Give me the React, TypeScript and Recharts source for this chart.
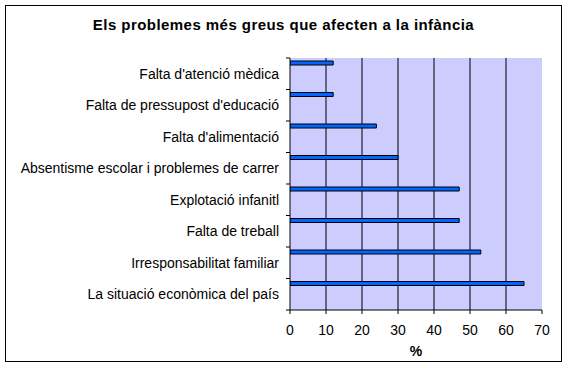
import React from 'react';
import { BarChart, Bar, XAxis, YAxis, CartesianGrid } from 'recharts';

const categories = [
  "Falta d'atenció mèdica",
  "Falta de pressupost d'educació",
  "Falta d'alimentació",
  'Absentisme escolar i problemes de carrer',
  'Explotació infanitl',
  'Falta de treball',
  'Irresponsabilitat familiar',
  'La situació econòmica del país',
];
const values = [12, 12, 24, 30, 47, 47, 53, 65];
const xTicks = [0, 10, 20, 30, 40, 50, 60, 70];
const gridValues = [10, 20, 30, 40, 50, 60];
const title = 'Els problemes més greus que afecten a la infància';
const xLabel = '%';

const data = categories.map((name, i) => ({ name, pct: values[i] }));

const FONT = '"Liberation Sans", Arial, sans-serif';

const CatTick = (props: any) => {
  const { x, y, payload, index, visibleTicksCount } = props;
  const half = payload && payload.offset ? payload.offset : 0;
  const ax = x + 11;
  return (
    <g>
      <text x={x} y={y} dy="0.35em" textAnchor="end" fontFamily={FONT} fontSize={14} fill="#000">
        {payload.value}
      </text>
      <line x1={ax - 4} x2={ax} y1={y - half} y2={y - half} stroke="#000" />
      {index === visibleTicksCount - 1 && (
        <line x1={ax - 4} x2={ax} y1={y + half} y2={y + half} stroke="#000" />
      )}
    </g>
  );
};

export default function App() {
  return (
    <div style={{ position: 'absolute', left: 0, top: 0, width: 567, height: 367, background: '#fff' }}>
      <div
        style={{
          position: 'absolute',
          left: 5,
          top: 5,
          width: 555,
          height: 355,
          border: '1px solid #000',
        }}
      />
      <div
        style={{
          position: 'absolute',
          left: 0,
          top: 16,
          width: 567,
          textAlign: 'center',
          fontFamily: FONT,
          fontWeight: 'bold',
          fontSize: 15,
          letterSpacing: '0.45px',
          lineHeight: '18px',
          color: '#000',
        }}
      >
        {title}
      </div>
      <div style={{ position: 'absolute', left: 0, top: 0 }}>
        <BarChart
          width={567}
          height={367}
          data={data}
          layout="vertical"
          margin={{ top: 58, right: 25, bottom: 0, left: 0 }}
          barCategoryGap={3}
          barGap={0}
        >
          <CartesianGrid
            horizontal={false}
            vertical={true}
            fill="#CCCCFF"
            stroke="#000"
            strokeOpacity={1}
            verticalValues={gridValues}
          />
          <XAxis
            type="number"
            domain={[0, 70]}
            ticks={xTicks}
            allowDataOverflow
            interval={0}
            height={57}
            tickSize={4}
            tickMargin={11}
            stroke="#000"
            tick={{ fill: '#000', fontFamily: FONT, fontSize: 14 }}
            label={{
              value: xLabel,
              position: 'insideBottom',
              offset: 11,
              style: { fontFamily: FONT, fontSize: 14, fontWeight: 'bold', fill: '#000' },
            }}
          />
          <XAxis
            xAxisId="top"
            orientation="top"
            type="number"
            domain={[0, 70]}
            height={0}
            tick={false}
            tickLine={false}
            stroke="#808080"
          />
          <YAxis
            type="category"
            dataKey="name"
            width={290}
            tickLine={false}
            tickSize={4}
            tickMargin={7}
            interval={0}
            stroke="#000"
            tick={<CatTick />}
          />
          <YAxis
            yAxisId="right"
            orientation="right"
            type="category"
            dataKey="name"
            width={0}
            tick={false}
            tickLine={false}
            stroke="#808080"
          />
          <Bar dataKey="pct" fill="#0066FF" stroke="#000" strokeWidth={1} isAnimationActive={false} />
          <Bar dataKey="s2" isAnimationActive={false} />
          <Bar dataKey="s3" isAnimationActive={false} />
          <Bar dataKey="s4" isAnimationActive={false} />
          <Bar dataKey="s5" isAnimationActive={false} />
          <Bar dataKey="s6" isAnimationActive={false} />
        </BarChart>
      </div>
    </div>
  );
}
